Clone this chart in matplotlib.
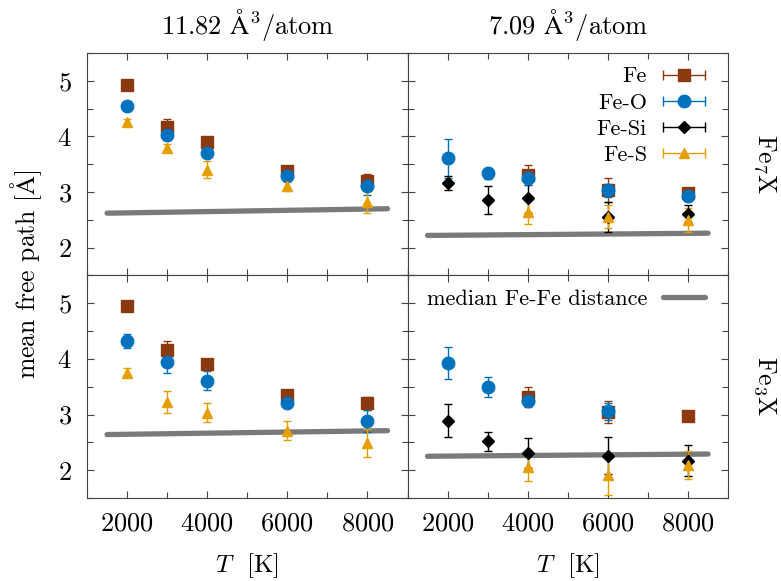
import numpy as np
import matplotlib
matplotlib.use("Agg")
import matplotlib.pyplot as plt
from matplotlib.lines import Line2D
from matplotlib.legend_handler import HandlerBase
from matplotlib.ticker import MultipleLocator

plt.rcParams['font.family'] = 'serif'
plt.rcParams['font.serif'] = ['cmr10']
plt.rcParams['mathtext.fontset'] = 'cm'
plt.rcParams['axes.formatter.use_mathtext'] = True

nan = np.nan
T = [2000, 3000, 4000, 6000, 8000]
T_median = [1500, 8500]

# Fe7X, 11.82 A^3/atom
fe7_a_fe = [4.93, 4.17, 3.90, 3.37, 3.20]
fe7_a_fe_err = [0.03, 0.14, 0.04, 0.04, 0.13]
fe7_a_feo = [4.54, 4.02, 3.71, 3.29, 3.10]
fe7_a_feo_err = [0.06, 0.08, 0.05, 0.04, 0.15]
fe7_a_fes = [4.26, 3.80, 3.40, 3.10, 2.82]
fe7_a_fes_err = [0.05, 0.06, 0.15, 0.08, 0.19]
fe7_a_median = [2.62, 2.70]

# Fe7X, 7.09 A^3/atom
fe7_b_fe = [nan, nan, 3.31, 3.04, 2.98]
fe7_b_fe_err = [0, 0, 0.18, 0.21, 0.03]
fe7_b_feo = [3.61, 3.34, 3.25, 3.03, 2.92]
fe7_b_feo_err = [0.35, 0.10, 0.12, 0.12, 0.08]
fe7_b_fesi = [3.16, 2.86, 2.90, 2.56, 2.61]
fe7_b_fesi_err = [0.13, 0.25, 0.27, 0.27, 0.15]
fe7_b_fes = [nan, nan, 2.65, 2.56, 2.50]
fe7_b_fes_err = [0, 0, 0.23, 0.21, 0.22]
fe7_b_median = [2.22, 2.26]

# Fe3X, 11.82 A^3/atom
fe3_a_fe = [4.95, 4.16, 3.91, 3.36, 3.20]
fe3_a_fe_err = [0.03, 0.16, 0.04, 0.04, 0.12]
fe3_a_feo = [4.32, 3.95, 3.61, 3.21, 2.89]
fe3_a_feo_err = [0.12, 0.20, 0.17, 0.04, 0.20]
fe3_a_fes = [3.75, 3.23, 3.03, 2.71, 2.49]
fe3_a_fes_err = [0.08, 0.20, 0.17, 0.17, 0.25]
fe3_a_median = [2.64, 2.71]

# Fe3X, 7.09 A^3/atom
fe3_b_fe = [nan, nan, 3.32, 3.05, 2.97]
fe3_b_fe_err = [0, 0, 0.18, 0.20, 0.02]
fe3_b_feo = [3.93, 3.49, 3.25, 3.06, nan]
fe3_b_feo_err = [0.29, 0.18, 0.07, 0.15, 0]
fe3_b_fesi = [2.89, 2.52, 2.31, 2.26, 2.17]
fe3_b_fesi_err = [0.30, 0.17, 0.27, 0.33, 0.28]
fe3_b_fes = [nan, nan, 2.05, 1.91, 2.09]
fe3_b_fes_err = [0, 0, 0.25, 0.35, 0.25]
fe3_b_median = [2.25, 2.29]

col_titles = [r'11.82 $\mathrm{\AA}^3$/atom', r'7.09 $\mathrm{\AA}^3$/atom']
row_labels = [r'Fe$_7$X', r'Fe$_3$X']

styles = {
    'Fe':    dict(color='#8b3a0f', marker='s', ms=8.5),
    'Fe-O':  dict(color='#0072bd', marker='o', ms=9),
    'Fe-Si': dict(color='black', marker='D', ms=6),
    'Fe-S':  dict(color='#e69f00', marker='^', ms=7.5),
}

panels = [
    [{'Fe': (fe7_a_fe, fe7_a_fe_err), 'Fe-O': (fe7_a_feo, fe7_a_feo_err),
      'Fe-S': (fe7_a_fes, fe7_a_fes_err), 'median': fe7_a_median},
     {'Fe': (fe7_b_fe, fe7_b_fe_err), 'Fe-O': (fe7_b_feo, fe7_b_feo_err),
      'Fe-Si': (fe7_b_fesi, fe7_b_fesi_err), 'Fe-S': (fe7_b_fes, fe7_b_fes_err),
      'median': fe7_b_median}],
    [{'Fe': (fe3_a_fe, fe3_a_fe_err), 'Fe-O': (fe3_a_feo, fe3_a_feo_err),
      'Fe-S': (fe3_a_fes, fe3_a_fes_err), 'median': fe3_a_median},
     {'Fe': (fe3_b_fe, fe3_b_fe_err), 'Fe-O': (fe3_b_feo, fe3_b_feo_err),
      'Fe-Si': (fe3_b_fesi, fe3_b_fesi_err), 'Fe-S': (fe3_b_fes, fe3_b_fes_err),
      'median': fe3_b_median}],
]


class HandlerHBar(HandlerBase):
    # gnuplot-like key: horizontal bar with end caps and marker in the middle
    def create_artists(self, legend, orig_handle, xdescent, ydescent, width, height, fontsize, trans):
        c = orig_handle.get_color()
        y = height / 2 - ydescent
        x0, x1 = -xdescent, width - xdescent
        line = Line2D([x0, x1], [y, y], color=c, lw=1)
        caps = Line2D([x0, x1], [y, y], ls='none', marker='|', ms=7, mew=1, color=c)
        mk = Line2D([(x0 + x1) / 2], [y], ls='none', marker=orig_handle.get_marker(),
                    ms=orig_handle.get_markersize(), color=c)
        for a in (line, caps, mk):
            a.set_transform(trans)
        return [line, caps, mk]


fig = plt.figure(figsize=(7.81, 5.81), dpi=100)
gs = fig.add_gridspec(2, 2, left=0.1114, right=0.9322, top=0.9088, bottom=0.1429,
                      hspace=0, wspace=0)
spine_c = '#444444'
leg_kw = dict(loc='upper right', bbox_to_anchor=(0.955, 0.978), frameon=False,
              markerfirst=False, fontsize=16, handlelength=1.9, handletextpad=0.7,
              labelspacing=0.3, borderaxespad=0)

for r in range(2):
    for c in range(2):
        ax = fig.add_subplot(gs[r, c])
        d = panels[r][c]
        ax.plot(T_median, d['median'], color='#7a7a7a', lw=3.8, solid_capstyle='round', zorder=1)
        for name in ['Fe', 'Fe-O', 'Fe-Si', 'Fe-S']:
            if name not in d:
                continue
            vals, errs = d[name]
            st = styles[name]
            ax.errorbar(T, vals, yerr=errs, fmt=st['marker'], ms=st['ms'], color=st['color'],
                        ecolor=st['color'], elinewidth=1, capsize=3, capthick=1, zorder=2)
        ax.set_xlim(1000, 9000)
        ax.set_ylim(1.5, 5.5)
        ax.xaxis.set_major_locator(MultipleLocator(2000))
        ax.xaxis.set_minor_locator(MultipleLocator(1000))
        ax.yaxis.set_major_locator(MultipleLocator(1))
        ax.yaxis.set_minor_locator(MultipleLocator(0.5))
        ax.tick_params(which='both', direction='in', top=True, right=True, colors=spine_c,
                       labelcolor='black', labelsize=19, width=0.8)
        ax.tick_params(which='major', length=5)
        ax.tick_params(which='minor', length=4)
        ax.tick_params(axis='x', which='both', pad=10)
        ax.tick_params(axis='y', which='both', pad=11)
        for s in ax.spines.values():
            s.set_color(spine_c)
            s.set_linewidth(0.8)
        if c == 1:
            ax.tick_params(labelleft=False)
        if r == 0:
            ax.tick_params(labelbottom=False)
            ax.set_title(col_titles[c], fontsize=19, pad=14)
        else:
            ax.set_xlabel(r'$T$  [K]', fontsize=18, labelpad=11)
        if r == 0 and c == 1:
            handles = [Line2D([], [], color=styles[n]['color'], marker=styles[n]['marker'],
                              ms=styles[n]['ms'], ls='none') for n in styles]
            ax.legend(handles, list(styles), handler_map={Line2D: HandlerHBar()}, **leg_kw)
        if r == 1 and c == 1:
            h = Line2D([], [], color='#7a7a7a', lw=3.8, solid_capstyle='round')
            ax.legend([h], ['median Fe-Fe distance'], **leg_kw)
        if c == 1:
            ax.text(1.115, 0.5, row_labels[r], transform=ax.transAxes,
                    rotation=270, ha='center', va='center', fontsize=18.5)

fig.text(0.033, 0.5286, r'mean free path [$\mathrm{\AA}$]', rotation=90, ha='center',
         va='center', fontsize=18.5)

fig.savefig('out.png', dpi=100)
